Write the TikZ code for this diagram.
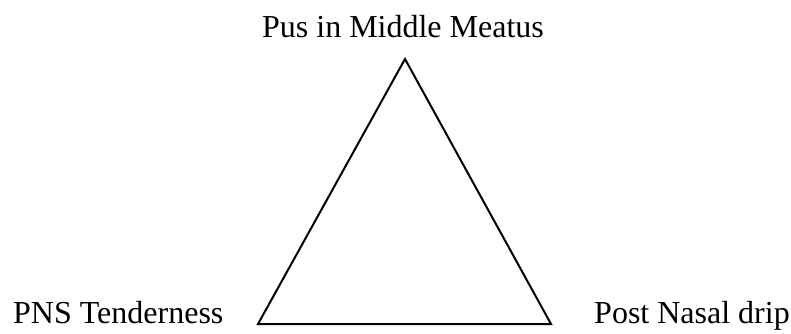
\documentclass[tikz,border=0pt]{standalone}
\usepackage{fontspec}
\setmainfont{Liberation Serif}
\begin{document}
\begin{tikzpicture}[x=1pt,y=-1pt,
  lbl/.style={inner sep=0pt,font=\fontsize{32}{38}\selectfont},
  tri/.style={draw=black,line width=2pt,line join=miter}]
\useasboundingbox (0,0) rectangle (791,333);
\coordinate (apex) at (405,59);
\coordinate (bl) at (258,324);
\coordinate (br) at (551,324);
\draw[tri] (apex) -- (bl) -- (br) -- cycle;
\node[lbl,anchor=base] (top) at (403,37) {Pus in Middle Meatus};
\node[lbl,anchor=base west] (left) at (13,323) {PNS Tenderness};
\node[lbl,anchor=base west] (right) at (594,323) {Post Nasal drip};
\end{tikzpicture}
\end{document}
